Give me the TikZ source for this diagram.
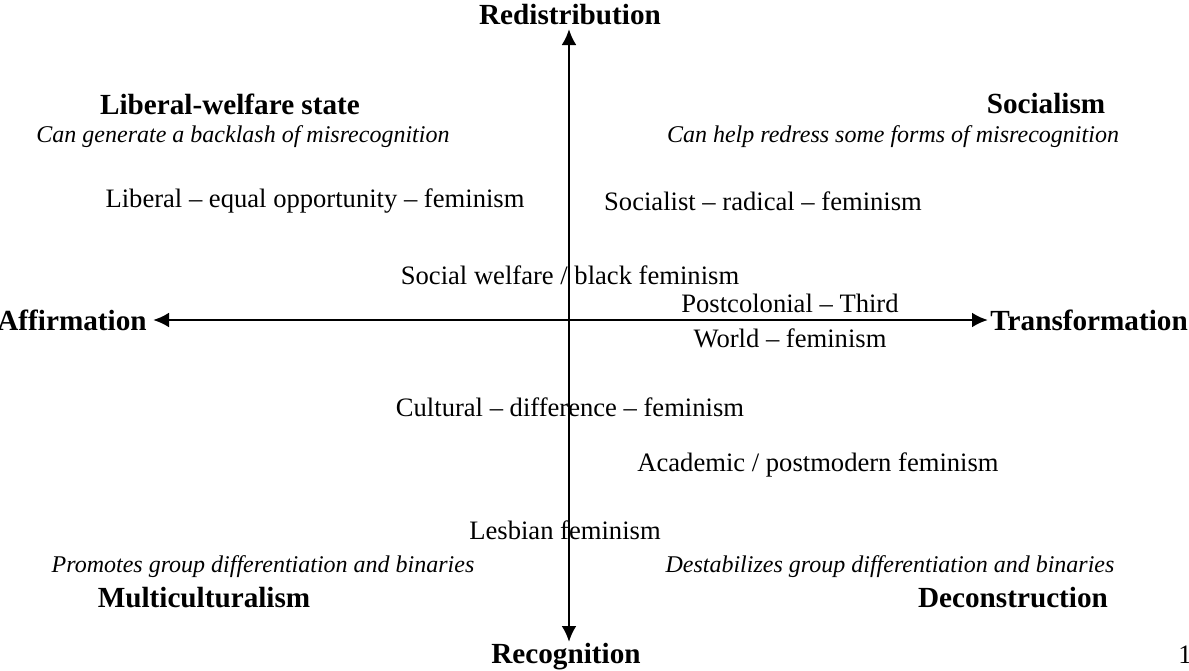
\documentclass[tikz,border=0pt]{standalone}
\usepackage{fontspec}
\setmainfont{Liberation Serif}
\usepackage{tikz}
\usetikzlibrary{arrows.meta}
\tikzset{axislabel/.style={font=\bfseries\fontsize{14.6}{16}\selectfont,inner sep=0pt},
	quadtitle/.style={font=\bfseries\fontsize{14.6}{16}\selectfont,inner sep=0pt},
	quadnote/.style={font=\itshape\fontsize{12}{14}\selectfont,inner sep=0pt},
	feminism/.style={font=\fontsize{13.3}{15}\selectfont,inner sep=0pt},
	axis/.style={line width=1.4pt,{Latex[length=8pt,width=7.5pt]}-{Latex[length=8pt,width=7.5pt]}}}

\begin{document}
\begin{tikzpicture}[x=0.5pt,y=-0.5pt]
	\useasboundingbox (0,0) rectangle (1189,670);
	\coordinate (Top) at (569,29);
	\coordinate (Bot) at (569,642);
	\coordinate (Left) at (153,320);
	\coordinate (Right) at (988,320);
	%
	\node[axislabel] (R) at (570,15) {Redistribution};
	\node[axislabel] (Rec) at (566,657) {Recognition};
	\node[axislabel,anchor=east] (A) at (147,320) {Affirmation};
	\node[axislabel,anchor=west] (T) at (990,320) {Transformation};
	%
	\node[quadtitle] (LW) at (230,104) {Liberal-welfare state};
	\node[quadnote] (LWn) at (243,137) {Can generate a backlash of misrecognition};
	\node[quadtitle] (Soc) at (1046,104) {Socialism};
	\node[quadnote] (Socn) at (893,137) {Can help redress some forms of misrecognition};
	\node[quadnote] (Mn) at (263,567) {Promotes group differentiation and binaries};
	\node[quadtitle] (M) at (204,598) {Multiculturalism};
	\node[quadnote] (Dn) at (890,567) {Destabilizes group differentiation and binaries};
	\node[quadtitle] (D) at (1013,598) {Deconstruction};
	%
	\node[feminism] (lib) at (315,201) {Liberal -- equal opportunity -- feminism};
	\node[feminism] (soc) at (763,201) {Socialist -- radical -- feminism};
	\node[feminism] (sw) at (570,275) {Social welfare / black feminism};
	\node[feminism] (pc) at (790,303) {Postcolonial -- Third};
	\node[feminism] (tw) at (790,338) {World -- feminism};
	\node[feminism] (cd) at (570,407) {Cultural -- difference -- feminism};
	\node[feminism] (ac) at (818,465) {Academic / postmodern feminism};
	\node[feminism] (les) at (565,530) {Lesbian feminism};
	%
	\draw [axis] (Top) -- (Bot);
	\draw [axis] (Left) -- (Right);
	%
	\node[feminism,anchor=west] (pg) at (1178,655) {1};
\end{tikzpicture}
\end{document}
